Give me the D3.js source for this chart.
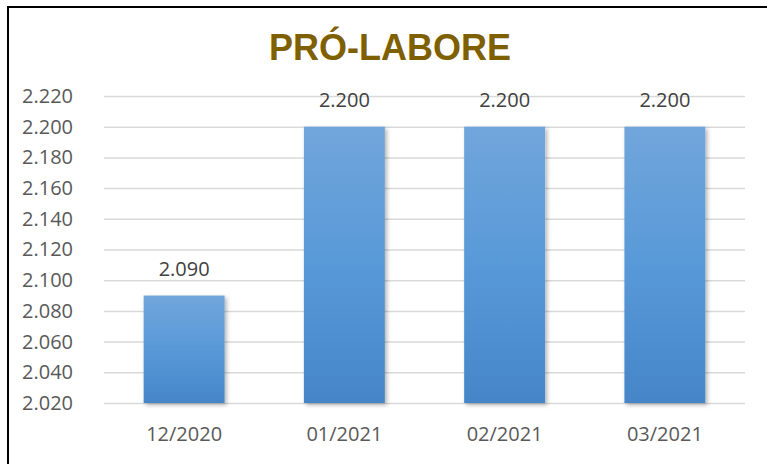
<!DOCTYPE html>
<html>
<head>
<meta charset="utf-8">
<script src="https://cdn.jsdelivr.net/npm/d3@7"></script>
<style>
  body { margin: 0; background: #fff; }
  svg { display: block; }
</style>
</head>
<body>
<svg></svg>
<script>
const width = 767;
const height = 464;

// data
const categories = ["12/2020", "01/2021", "02/2021", "03/2021"];
const values = [2.090, 2.200, 2.200, 2.200];
const yTicks = [2.020, 2.040, 2.060, 2.080, 2.100, 2.120, 2.140, 2.160, 2.180, 2.200, 2.220];
const title = "PRÓ-LABORE";

const margin = { top: 96, right: 22, bottom: 61, left: 104 };
const svg = d3.select("svg").attr("width", width).attr("height", height);

const fmt = v => d3.format(".3f")(v);

const x = d3.scaleBand()
    .domain(categories)
    .range([margin.left, width - margin.right])
    .paddingInner(0.495)
    .paddingOuter(0.2475);

const y = d3.scaleLinear()
    .domain([2.020, 2.220])
    .range([height - margin.bottom, margin.top]);

// frame (only left and top edges show in the picture)
svg.append("path")
    .attr("d", `M8,${height} L8,7 L${width},7`)
    .attr("fill", "none")
    .attr("stroke", "#000")
    .attr("stroke-width", 2);

// gradient + shadow for bars
const defs = svg.append("defs");
const grad = defs.append("linearGradient")
    .attr("id", "barGrad")
    .attr("x1", 0).attr("y1", 0).attr("x2", 0).attr("y2", 1);
grad.append("stop").attr("offset", "0%").attr("stop-color", "#71a6db");
grad.append("stop").attr("offset", "50%").attr("stop-color", "#5899d8");
grad.append("stop").attr("offset", "100%").attr("stop-color", "#4586c8");

const shadow = defs.append("filter").attr("id", "shadow")
    .attr("x", "-20%").attr("y", "-10%").attr("width", "140%").attr("height", "120%");
shadow.append("feDropShadow")
    .attr("dx", 2).attr("dy", 2).attr("stdDeviation", 2)
    .attr("flood-color", "#000").attr("flood-opacity", 0.3);

// gridlines via axis
const grid = svg.append("g")
    .attr("transform", `translate(${margin.left},0)`)
    .call(d3.axisLeft(y).tickValues(yTicks).tickSize(-(width - margin.left - margin.right)).tickFormat(""));
grid.select(".domain").remove();
grid.selectAll("line").attr("stroke", "#d9d9d9").attr("stroke-width", 1.5);

// y tick labels
const yAxis = svg.append("g")
    .attr("transform", `translate(${margin.left - 28},0)`)
    .call(d3.axisLeft(y).tickValues(yTicks).tickSize(0).tickFormat(fmt));
yAxis.select(".domain").remove();
yAxis.selectAll("text")
    .attr("font-family", "'Open Sans', sans-serif")
    .attr("font-size", 20)
    .attr("fill", "#595959");

// x tick labels
const xAxis = svg.append("g")
    .attr("transform", `translate(0,${height - margin.bottom})`)
    .call(d3.axisBottom(x).tickSize(0).tickPadding(24));
xAxis.select(".domain").remove();
xAxis.selectAll("text")
    .attr("font-family", "'Open Sans', sans-serif")
    .attr("font-size", 20)
    .attr("fill", "#595959");

// bars
svg.append("g").selectAll("rect")
    .data(values)
    .join("rect")
    .attr("x", (d, i) => x(categories[i]))
    .attr("y", d => y(d))
    .attr("width", x.bandwidth())
    .attr("height", d => y(2.020) - y(d))
    .attr("fill", "url(#barGrad)")
    .attr("filter", "url(#shadow)");

// data labels
svg.append("g").selectAll("text")
    .data(values)
    .join("text")
    .attr("x", (d, i) => x(categories[i]) + x.bandwidth() / 2)
    .attr("y", d => y(d) - 20)
    .attr("text-anchor", "middle")
    .attr("font-family", "'Open Sans', sans-serif")
    .attr("font-size", 20)
    .attr("fill", "#404040")
    .text(fmt);

// title
svg.append("text")
    .attr("x", 390)
    .attr("y", 60)
    .attr("text-anchor", "middle")
    .attr("font-family", "'Liberation Sans', Arial, sans-serif")
    .attr("font-weight", "bold")
    .attr("font-size", 36)
    .attr("fill", "#7f6000")
    .text(title);
</script>
</body>
</html>
